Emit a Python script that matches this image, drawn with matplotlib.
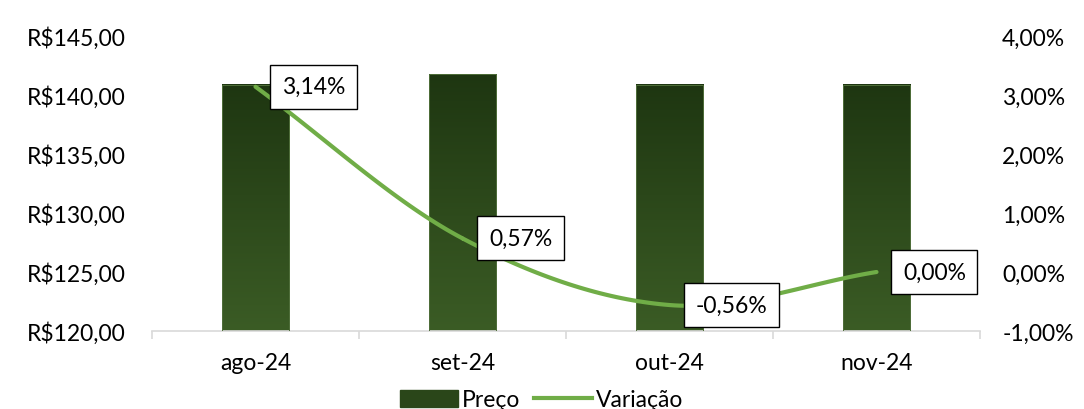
import numpy as np
import matplotlib.pyplot as plt
from matplotlib.colors import LinearSegmentedColormap
from matplotlib.patches import Patch
from matplotlib.lines import Line2D

plt.rcParams['font.family'] = ['Lato', 'DejaVu Sans']

# Data
meses = ['ago-24', 'set-24', 'out-24', 'nov-24']
preco = [140.85, 141.75, 140.85, 140.85]
variacao = [3.14, 0.57, -0.56, 0.00]
rotulos = ['3,14%', '0,57%', '-0,56%', '0,00%']

fs = 16.5

fig = plt.figure(figsize=(10.84, 4.10), dpi=100)
ax = fig.add_axes([152 / 1084, 1 - 332 / 410, 828 / 1084, 295 / 410])
ax2 = ax.twinx()

x = np.arange(len(meses))
w = 0.325
ymin, ymax = 120, 145

# gradient bars
cmap = LinearSegmentedColormap.from_list('g', ['#3b5c25', '#1e3611'])
grad = np.linspace(0, 1, 256).reshape(-1, 1)
for xi, p in zip(x, preco):
    ax.imshow(grad, cmap=cmap, origin='lower', aspect='auto',
              extent=[xi - w / 2, xi + w / 2, ymin, p], zorder=2)
ax.bar(x, [p - ymin for p in preco], bottom=ymin, width=w, facecolor='none',
       edgecolor='#4f6e3a', linewidth=0.7, zorder=3)

ax.set_xlim(-0.5, len(meses) - 0.5)
ax.set_ylim(ymin, ymax)
ax.set_yticks(np.arange(120, 146, 5))
ax.set_yticklabels(['R$%d,00' % v for v in range(120, 146, 5)])
ax.set_xticks(x)
ax.set_xticklabels(meses)
ax.set_xticks(np.arange(-0.5, len(meses)), minor=True)
ax.tick_params(axis='x', which='major', length=0, pad=15, labelsize=fs)
ax.tick_params(axis='x', which='minor', length=6, color='#d9d9d9', width=1.2)
ax.tick_params(axis='y', length=0, pad=19, labelsize=fs)
for s in ['top', 'right', 'left']:
    ax.spines[s].set_visible(False)
ax.spines['bottom'].set_color('#d9d9d9')
ax.spines['bottom'].set_linewidth(1.2)

# smoothed line (Catmull-Rom between the points)
pts = np.column_stack([x, variacao]).astype(float)
ext = np.vstack([2 * pts[0] - pts[1], pts, 2 * pts[-1] - pts[-2]])
curve = []
for i in range(1, len(ext) - 2):
    p0, p1, p2, p3 = ext[i - 1], ext[i], ext[i + 1], ext[i + 2]
    for t in np.linspace(0, 1, 40):
        curve.append(0.5 * ((2 * p1) + (-p0 + p2) * t
                            + (2 * p0 - 5 * p1 + 4 * p2 - p3) * t ** 2
                            + (-p0 + 3 * p1 - 3 * p2 + p3) * t ** 3))
curve = np.array(curve)
ax2.plot(curve[:, 0], curve[:, 1], color='#70ad47', linewidth=3.0,
         solid_capstyle='round', zorder=4)

ax2.set_ylim(-1, 4)
ax2.set_yticks(np.arange(-1, 5, 1))
ax2.set_yticklabels(['%d,00%%' % v for v in range(-1, 5)])
ax2.tick_params(axis='y', length=0, pad=16, labelsize=fs)
for s in ['top', 'right', 'left', 'bottom']:
    ax2.spines[s].set_visible(False)

for xi, v, r in zip(x, variacao, rotulos):
    ax2.annotate(r, (xi, v), xytext=(19, 0), textcoords='offset points',
                 ha='left', va='center', fontsize=fs, zorder=5,
                 bbox=dict(boxstyle='square,pad=0.5', facecolor='white',
                           edgecolor='black', linewidth=1))

handles = [Patch(facecolor='#2a4619', edgecolor='#2a4619'),
           Line2D([0], [0], color='#70ad47', linewidth=3.0)]
fig.legend(handles, ['Preço', 'Variação'], loc='center',
           bbox_to_anchor=(0.5, 1 - 401 / 410), ncol=2, frameon=False,
           fontsize=fs, handlelength=2.5, handletextpad=0.2, columnspacing=0.6)

fig.savefig('out.png', dpi=100)
